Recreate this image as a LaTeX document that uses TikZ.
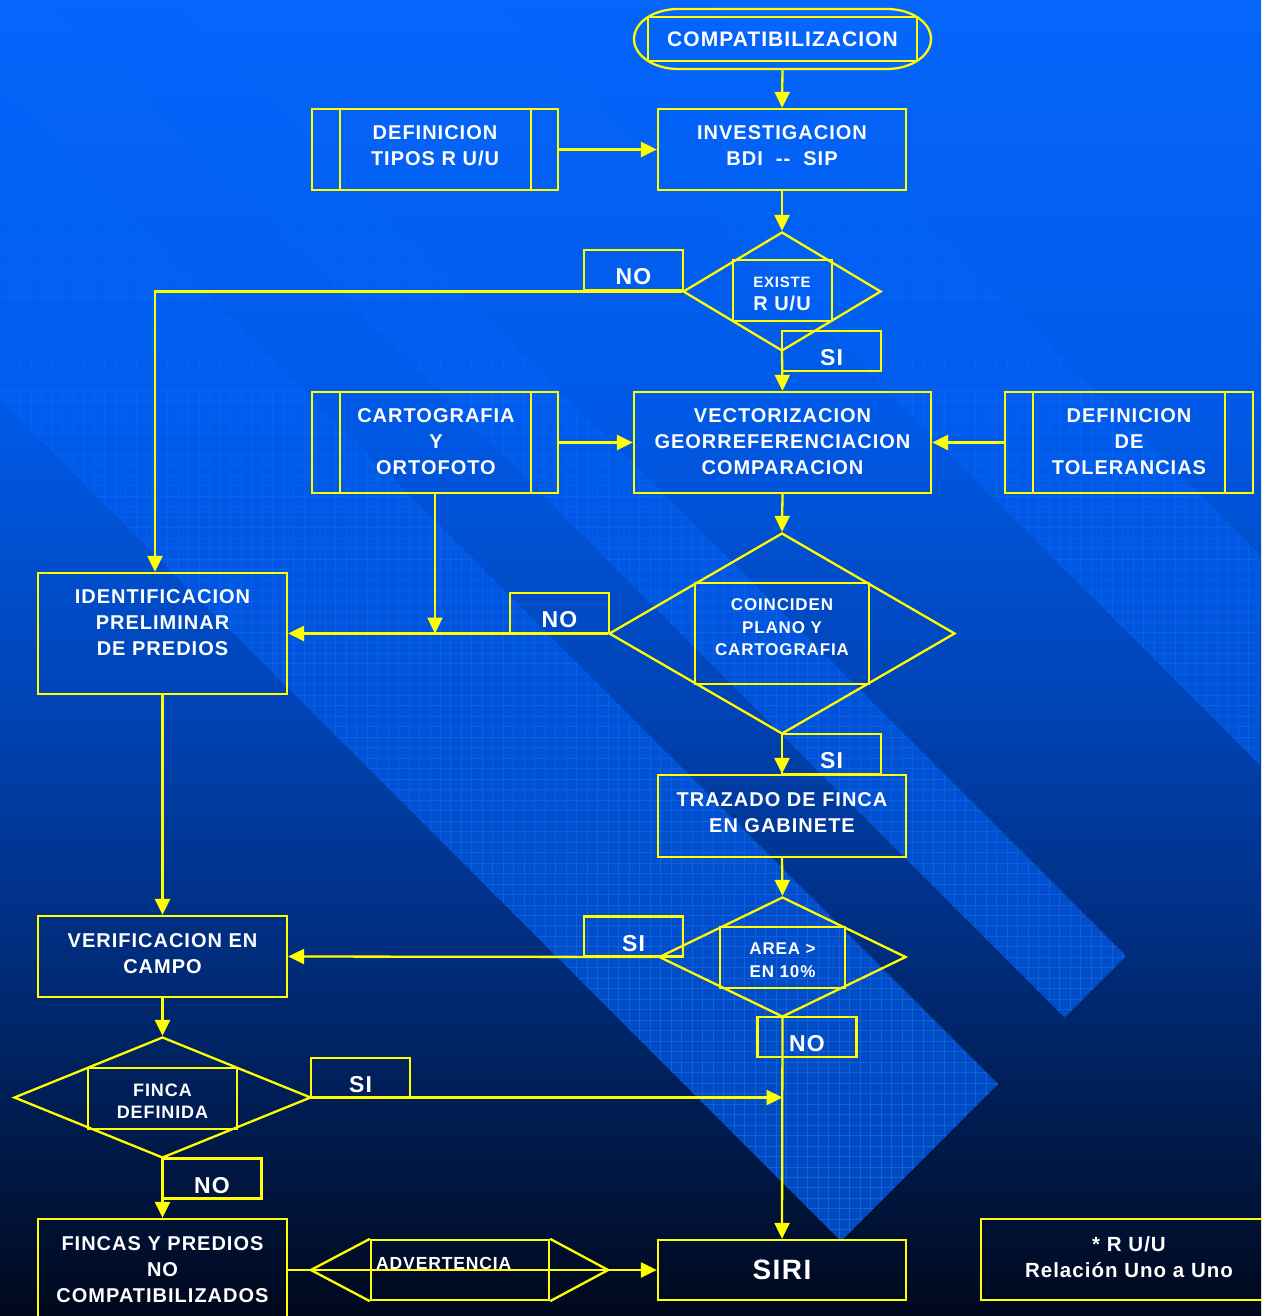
\documentclass[tikz,border=0pt]{standalone}
\usepackage{fontspec}
\setmainfont{Liberation Sans}[LetterSpace=5]
\usetikzlibrary{shapes.geometric,arrows.meta,fadings}
\definecolor{yl}{RGB}{255,255,0}
\definecolor{barc}{RGB}{0,98,250}
\definecolor{gridc}{RGB}{70,150,255}
\definecolor{bgA}{RGB}{6,102,252}
\definecolor{bgB}{RGB}{0,90,232}
\definecolor{bgC}{RGB}{0,68,182}
\definecolor{bgD}{RGB}{0,45,125}
\definecolor{bgE}{RGB}{0,25,72}
\definecolor{bgF}{RGB}{0,8,28}
\pgfdeclareverticalshading{bgshade}{100bp}{color(0bp)=(bgF); color(25bp)=(bgF); color(31.3bp)=(bgE); color(38.9bp)=(bgD); color(48.4bp)=(bgC); color(59.8bp)=(bgB); color(75bp)=(bgA); color(100bp)=(bgA)}
\tikzfading[name=gridfade, top color=transparent!100, middle color=transparent!40, bottom color=transparent!0]
\tikzfading[name=barfade, top color=transparent!60, middle color=transparent!0, bottom color=transparent!0]
\begin{document}
\begin{tikzpicture}[x=1pt,y=-1pt,
  yline/.style={draw=yl,line width=2.3pt},
  arr/.style={draw=yl,line width=2.3pt,-{Triangle[length=16pt,width=15pt]}},
  box/.style={rectangle,draw=yl,line width=2.3pt,inner sep=0pt},
  dia/.style={diamond,draw=yl,line width=2.3pt,inner sep=0pt},
  txt/.style={text=white,font={\bfseries\fontsize{20}{26}\selectfont},align=center,inner sep=0pt},
  stxt/.style={txt,font={\bfseries\fontsize{17}{22.5}\selectfont}},
  lbl/.style={box,minimum width=99pt,minimum height=40pt,text=white,font={\bfseries\fontsize{23}{26}\selectfont},text height=29pt,text depth=0pt}
]
\useasboundingbox (0,0) rectangle (1261,1316);
% background
\fill[shading=bgshade] (0,0) rectangle (1261,1316);
\begin{scope}
  \clip (0,0) rectangle (1261,1316);
  \clip (-900,-500) -- (841,1241) -- (998,1084) -- (-743,-657) -- cycle
        (-676.5,-723.5) -- (1064.5,1017.5) -- (1126,956) -- (-615,-785) -- cycle
        (-452.5,-947.5) -- (1288.5,793.5) -- (1393.5,688.5) -- (-347.5,-1052.5) -- cycle;
  \fill[barc,opacity=0.75,path fading=barfade] (0,0) rectangle (1261,1316);
  \draw[gridc,opacity=0.35,line width=0.6pt,step=10.5pt,path fading=gridfade] (0,0) grid (1261,1316);
\end{scope}

% ---- nodes ----
\draw[yline] (678,9) -- (887,9) arc[start angle=90,end angle=-90,x radius=44pt,y radius=30pt]
  -- (678,69) arc[start angle=270,end angle=90,x radius=44pt,y radius=30pt] -- cycle;
\coordinate (compatb) at (782.5,69);
\node[box,minimum width=269pt,minimum height=44pt,text=white,font={\bfseries\fontsize{21}{26}\selectfont}] (compat) at (782.5,39) {COMPATIBILIZACION};

\node[box,minimum width=248pt,minimum height=81pt] (inv) at (782,149.5) {};
\node[txt] (invt) at (782,146) {INVESTIGACION\\BDI\ \ -{}-\ \ SIP};

\node[box,minimum width=246pt,minimum height=81pt] (dtipos) at (435,149.5) {};
\draw[yline] ([xshift=29pt]dtipos.north west) -- ([xshift=29pt]dtipos.south west);
\draw[yline] ([xshift=-28pt]dtipos.north east) -- ([xshift=-28pt]dtipos.south east);
\node[txt] (dtipost) at (435,146) {DEFINICION\\TIPOS R U/U};

\node[dia,minimum width=198pt,minimum height=119pt] (d1) at (782,291.5) {};
\node[box,minimum width=99pt,minimum height=61pt] (d1i) at (782.5,290.5) {};
\node[txt,font={\bfseries\fontsize{20}{23.5}\selectfont}] (d1t) at (782,294) {{\fontsize{15}{17}\selectfont EXISTE}\\R U/U};
\node[lbl] (no1) at (633.5,270) {NO};
\node[lbl] (si1) at (831.5,351) {SI};

\node[box,minimum width=246pt,minimum height=101pt] (carto) at (435,442.5) {};
\draw[yline] ([xshift=29pt]carto.north west) -- ([xshift=29pt]carto.south west);
\draw[yline] ([xshift=-28pt]carto.north east) -- ([xshift=-28pt]carto.south east);
\node[txt] (cartot) at (436,441.5) {CARTOGRAFIA\\Y\\ORTOFOTO};

\node[box,minimum width=297pt,minimum height=101pt] (vect) at (782.5,442.5) {};
\node[txt] (vectt) at (782.5,441.5) {VECTORIZACION\\GEORREFERENCIACION\\COMPARACION};

\node[box,minimum width=248pt,minimum height=101pt] (tol) at (1129,442.5) {};
\draw[yline] ([xshift=29pt]tol.north west) -- ([xshift=29pt]tol.south west);
\draw[yline] ([xshift=-29pt]tol.north east) -- ([xshift=-29pt]tol.south east);
\node[txt] (tolt) at (1129,441.5) {DEFINICION\\DE\\TOLERANCIAS};

\node[dia,minimum width=346pt,minimum height=201pt] (d2) at (782,633.5) {};
\node[box,minimum width=174pt,minimum height=101pt] (d2i) at (782,633.5) {};
\node[stxt] (d2t) at (782,627.5) {COINCIDEN\\PLANO Y\\CARTOGRAFIA};
\node[lbl] (no2) at (559.5,613) {NO};

\node[box,minimum width=249pt,minimum height=121pt] (ident) at (162.5,633.5) {};
\node[txt] (identt) at (162.5,623) {IDENTIFICACION\\PRELIMINAR\\DE PREDIOS};

\node[lbl] (si2) at (831.5,754) {SI};
\node[box,minimum width=248pt,minimum height=82pt] (traz) at (782,816) {};
\node[txt] (trazt) at (782,813) {TRAZADO DE FINCA\\EN GABINETE};

\node[dia,minimum width=247pt,minimum height=120pt] (d3) at (782.5,957) {};
\node[box,minimum width=125pt,minimum height=61pt] (d3i) at (782.5,957.5) {};
\node[stxt] (d3t) at (782.5,960) {AREA >\\EN 10\%};
\node[lbl] (si3) at (633.5,936.5) {SI};
\node[lbl] (no3) at (807,1037) {NO};

\node[box,minimum width=249pt,minimum height=81pt] (verif) at (162.5,956.5) {};
\node[txt] (veriff) at (162.5,954) {VERIFICACION EN\\CAMPO};

\node[dia,minimum width=297pt,minimum height=121pt] (d4) at (162.5,1097.5) {};
\node[box,minimum width=149pt,minimum height=61pt] (d4i) at (162.5,1098.5) {};
\node[stxt,font={\bfseries\fontsize{18}{22}\selectfont}] (d4t) at (162.5,1101) {FINCA\\DEFINIDA};
\node[lbl] (si4) at (360.5,1078) {SI};
\node[lbl] (no4) at (212,1178.5) {NO};

\node[box,minimum width=249pt,minimum height=102pt] (fincas) at (162.5,1270) {};
\node[txt] (fincast) at (162.5,1270) {FINCAS Y PREDIOS\\NO\\COMPATIBILIZADOS};

\node[box,minimum width=178pt,minimum height=60pt] (adv) at (460,1270) {};
\draw[yline,line join=miter] (adv.north west) -- ([xshift=-59pt]adv.west) -- (adv.south west);
\draw[yline,line join=miter] (adv.north east) -- ([xshift=58pt]adv.east) -- (adv.south east);
\node[text=white,font={\bfseries\fontsize{17.5}{20}\selectfont},inner sep=0pt,anchor=base west] (advt) at (376,1269) {ADVERTENCIA};

\node[box,minimum width=248pt,minimum height=60pt,text=white,font={\bfseries\fontsize{28}{30}\selectfont}] (siri) at (782,1270) {SIRI};

\node[box,minimum width=282pt,minimum height=81pt] (note) at (1122,1259.5) {};
\node[txt,font={\bfseries\fontsize{20.5}{26}\selectfont}] (notet) at (1129,1257) {* R U/U\\Relación Uno a Uno};

% ---- connectors ----
\draw[arr] (compatb) -- (inv.north);
\draw[arr] (dtipos.east) -- (inv.west);
\draw[arr] (inv.south) -- (d1.north);
\draw[arr] (d1.west) -| ([xshift=-7.5pt]ident.north);
\draw[arr] (d1.south) -- (vect.north);
\draw[arr] (carto.east) -- (vect.west);
\draw[arr] (tol.west) -- (vect.east);
\draw[arr] (carto.south) -- (carto.south |- d2.west);
\draw[arr] (vect.south) -- (d2.north);
\draw[arr] (d2.west) -- (ident.east);
\draw[arr] (d2.south) -- (traz.north);
\draw[arr] (traz.south) -- (d3.north);
\draw[arr] (d3.west) -- (verif.east);
\draw[arr] (d3.south) -- (siri.north);
\draw[arr] (ident.south) -- (verif.north);
\draw[arr] (verif.south) -- (d4.north);
\draw[arr] (d4.east) -- (d3.south |- d4.east);
\draw[arr] (d4.south) -- (fincas.north);
\draw[arr] (fincas.east) -- (siri.west);
\end{tikzpicture}
\end{document}
